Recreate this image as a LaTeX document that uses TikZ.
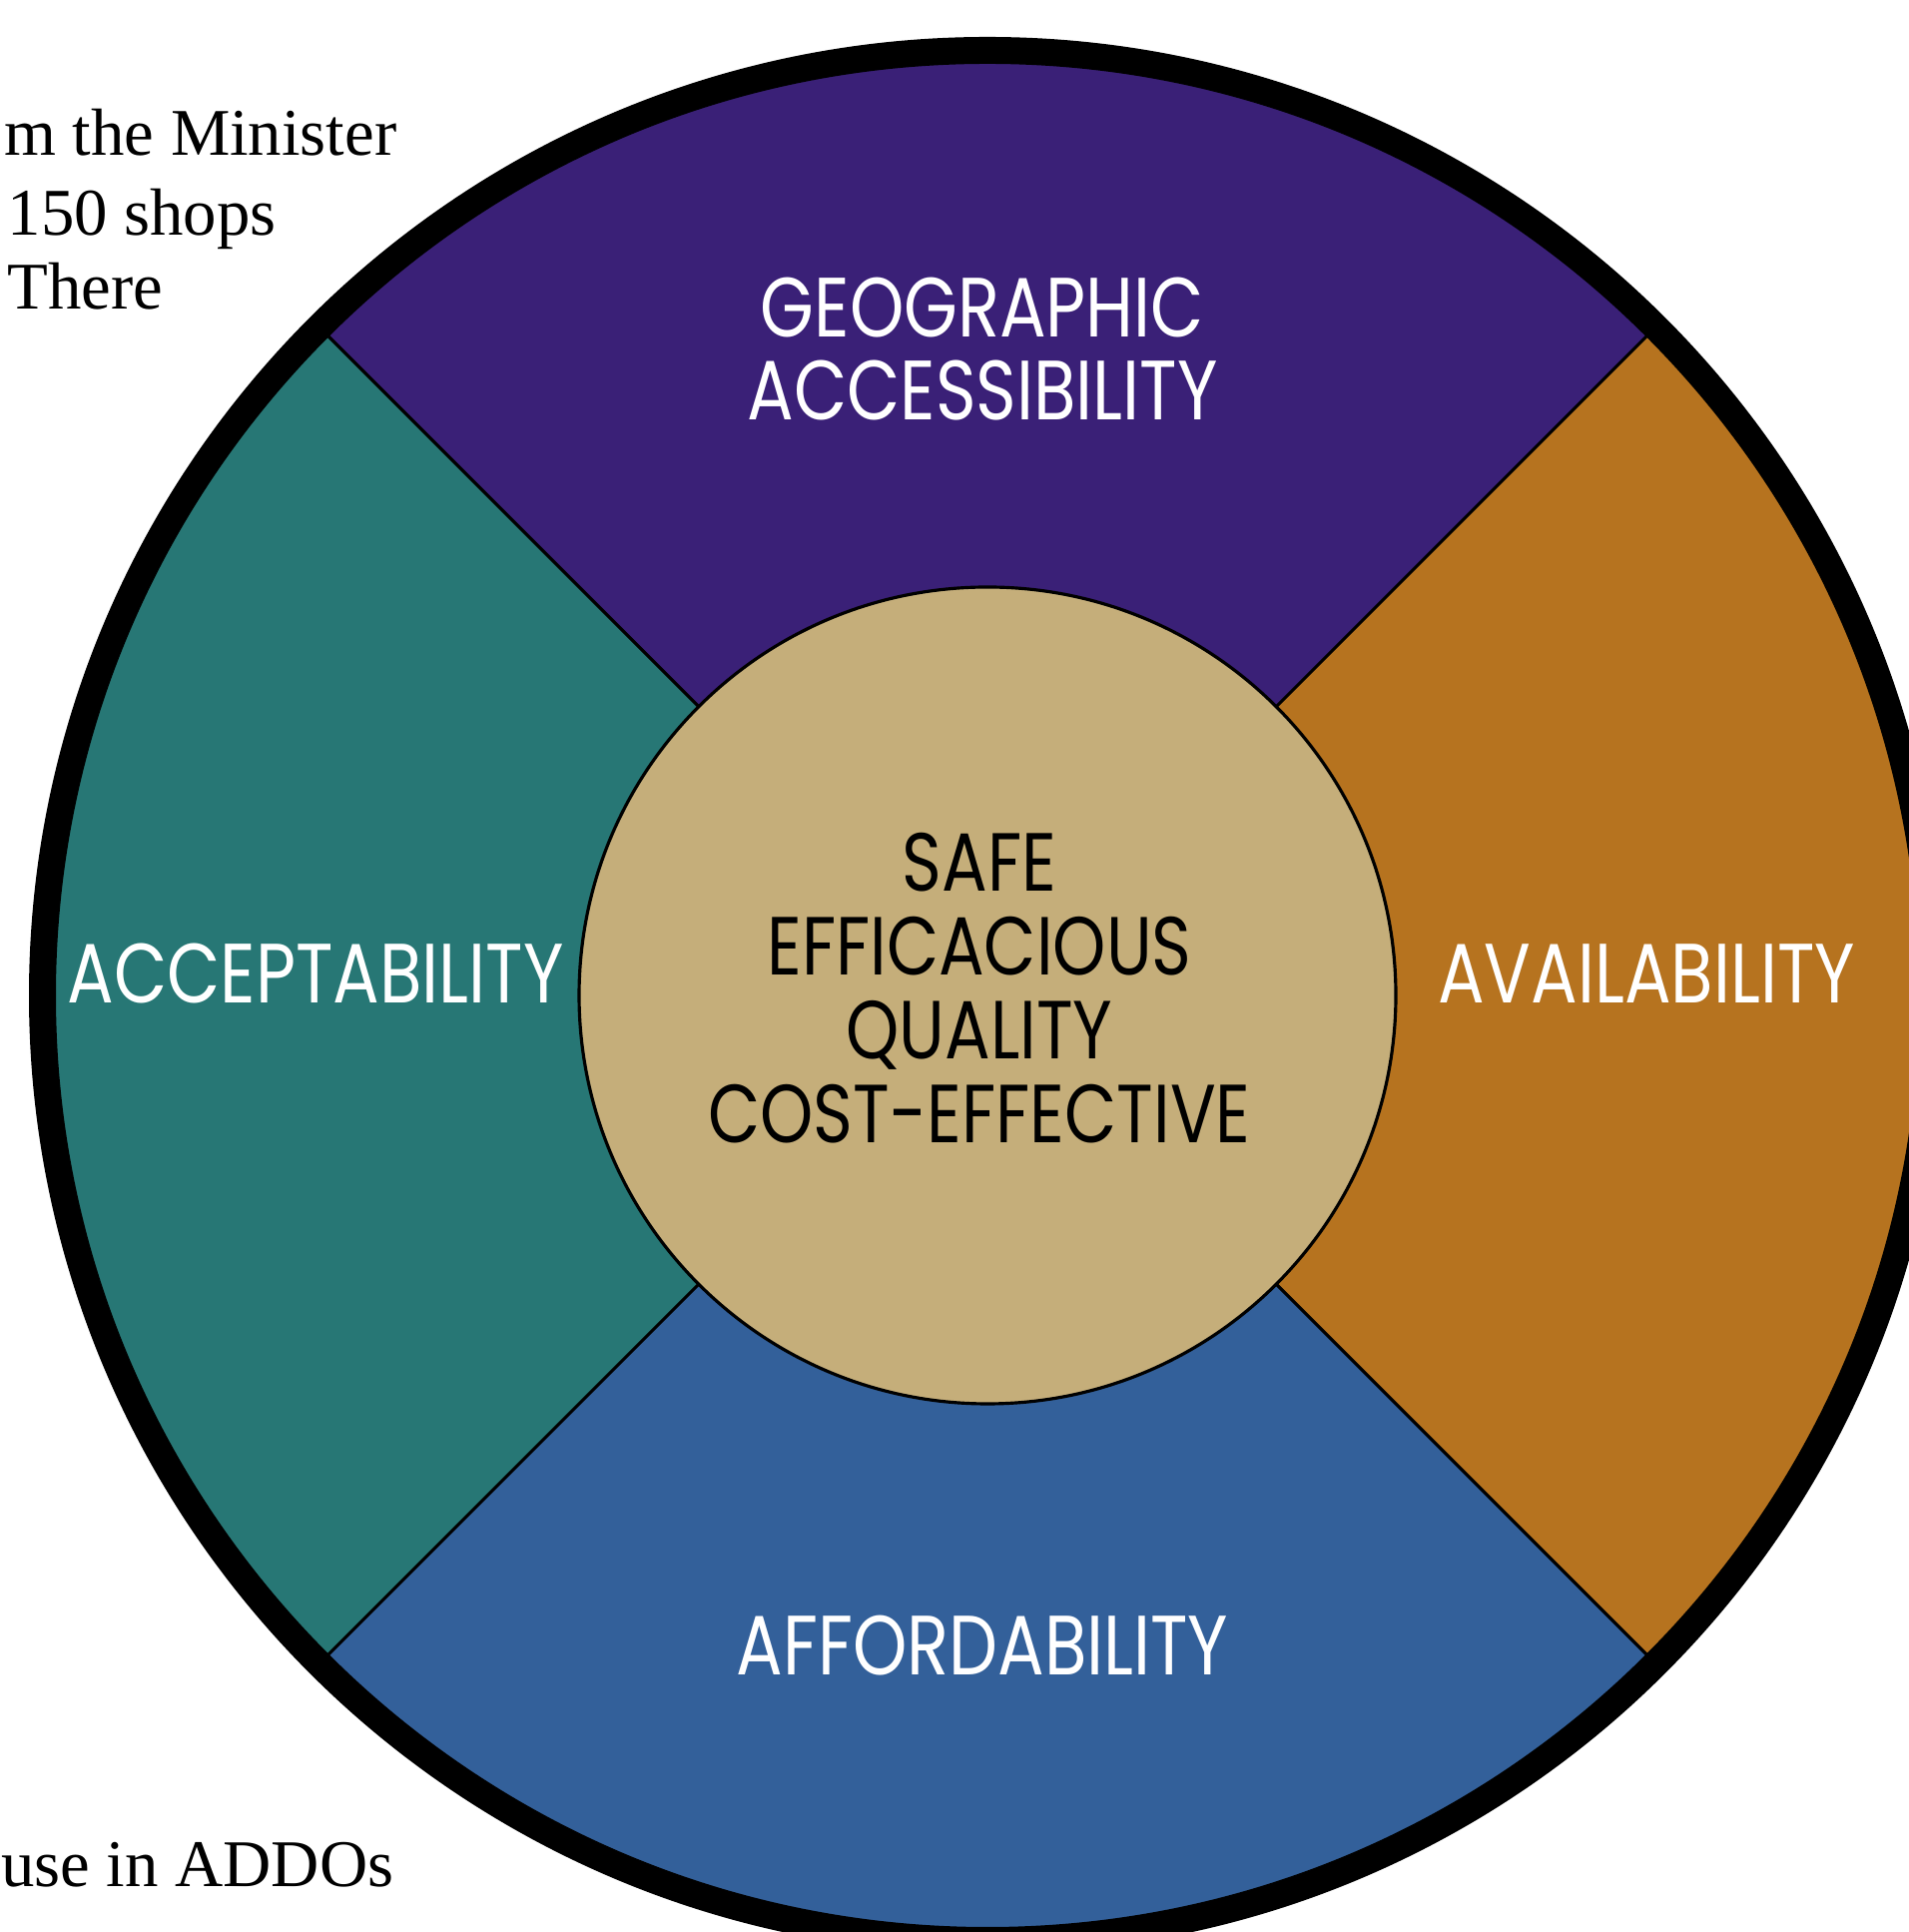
\documentclass[tikz,border=0pt]{standalone}
\usepackage{fontspec}
\setmainfont{Liberation Serif}
\newfontfamily\segfont{Poppins}[FakeStretch=0.82]
\usepackage{tikz}
\usetikzlibrary{calc}

\definecolor{geopurple}{RGB}{58,32,119}
\definecolor{acceptteal}{RGB}{39,119,117}
\definecolor{availorange}{RGB}{182,115,31}
\definecolor{affordblue}{RGB}{51,96,154}
\definecolor{coretan}{RGB}{197,174,122}

\begin{document}
\begin{tikzpicture}[
        seglabel/.style={text=white, align=center, inner sep=0pt, font=\segfont\fontsize{24}{23.6}\selectfont},
        corelabel/.style={text=black, align=center, inner sep=0pt, font=\segfont\fontsize{23.5}{23.9}\selectfont},
        bodytext/.style={inner sep=0pt, font=\fontsize{19}{24}\selectfont}
    ]
        \clip (0,0) rectangle (19.12,19.35);
        \coordinate (c) at (9.89,9.38);

        %page text cut by the figure
        \node[bodytext, anchor=base east] (minister) at (3.98,17.79) {m the Minister};
        \node[bodytext, anchor=base west] (shops) at (0.07,16.99) {150 shops};
        \node[bodytext, anchor=base west] (there) at (0.07,16.25) {There};
        \node[bodytext, anchor=base east] (addos) at (3.95,0.45) {use in ADDOs};

        %quadrants
        \fill[geopurple] (c) -- ++(45:9.47) arc (45:135:9.47) -- cycle;
        \fill[acceptteal] (c) -- ++(135:9.47) arc (135:225:9.47) -- cycle;
        \fill[affordblue] (c) -- ++(225:9.47) arc (225:315:9.47) -- cycle;
        \fill[availorange] (c) -- ++(315:9.47) arc (315:405:9.47) -- cycle;

        %dividers
        \foreach \a in {45,135,225,315}
            \draw[line width=0.9pt] ($(c)+(\a:4.09)$) -- ($(c)+(\a:9.4)$);

        %core circle and rim
        \filldraw[fill=coretan, draw=black, line width=0.9pt] (c) circle (4.09);
        \draw[line width=0.27cm] (c) circle (9.465);

        %labels of quadrants
        \node[seglabel] (geo) at (9.84,15.85) {GEOGRAPHIC\\ACCESSIBILITY};
        \node[seglabel] (accept) at (3.16,9.60) {ACCEPTABILITY};
        \node[seglabel] (avail) at (16.49,9.60) {AVAILABILITY};
        \node[seglabel] (afford) at (9.84,2.87) {AFFORDABILITY};

        %core label
        \node[corelabel] (core) at (9.81,9.45) {SAFE\\EFFICACIOUS\\QUALITY\\COST-EFFECTIVE};
\end{tikzpicture}
\end{document}
